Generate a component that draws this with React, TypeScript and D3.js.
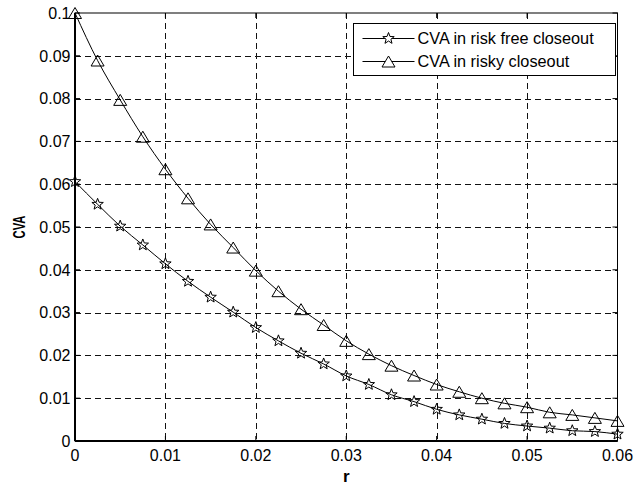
import { useEffect, useRef } from 'react';
import * as d3 from 'd3';

// r grid, CVA values
const rValues = [
  0, 0.0025, 0.005, 0.0075, 0.01, 0.0125, 0.015, 0.0175, 0.02, 0.0225, 0.025, 0.0275, 0.03,
  0.0325, 0.035, 0.0375, 0.04, 0.0425, 0.045, 0.0475, 0.05, 0.0525, 0.055, 0.0575, 0.06,
];
const cvaRiskFree = [
  0.0606, 0.0553, 0.0502, 0.0458, 0.0414, 0.0373, 0.0336, 0.0301, 0.0265, 0.0234, 0.0205, 0.018,
  0.0152, 0.0132, 0.0108, 0.0092, 0.0074, 0.0061, 0.0051, 0.0041, 0.0035, 0.003, 0.0024, 0.0022,
  0.0016,
];
const cvaRisky = [
  0.1, 0.0889, 0.0797, 0.0711, 0.0635, 0.0567, 0.0506, 0.0452, 0.0398, 0.035, 0.0308, 0.0271,
  0.0234, 0.0203, 0.0176, 0.0153, 0.0132, 0.0115, 0.01, 0.0088, 0.0079, 0.0067, 0.0061, 0.0054,
  0.0047,
];
const legendLabels = ['CVA in risk free closeout', 'CVA in risky closeout'];
const xTicks = [0, 0.01, 0.02, 0.03, 0.04, 0.05, 0.06];
const yTicks = [0, 0.01, 0.02, 0.03, 0.04, 0.05, 0.06, 0.07, 0.08, 0.09, 0.1];

const FONT = '"Liberation Sans", Arial, Helvetica, sans-serif';

// MATLAB-ish markers
const starPath = (r: number) => {
  const pts: string[] = [];
  for (let i = 0; i < 10; i++) {
    const rad = i % 2 === 0 ? r : r * 0.42;
    const a = -Math.PI / 2 + (i * Math.PI) / 5;
    pts.push(`${(rad * Math.cos(a)).toFixed(2)},${(rad * Math.sin(a)).toFixed(2)}`);
  }
  return `M${pts.join('L')}Z`;
};
const triPath = (w: number, h: number) => `M0,${-h / 2}L${w / 2},${h / 2}L${-w / 2},${h / 2}Z`;

export default function App() {
  const svgRef = useRef<SVGSVGElement | null>(null);

  useEffect(() => {
    const el = svgRef.current;
    if (!el) return;
    d3.select(el).selectAll('*').remove();

    const W = 634;
    const H = 487;
    const margin = { top: 13, right: 16.5, bottom: 46, left: 75 };
    const w = W - margin.left - margin.right;
    const h = H - margin.top - margin.bottom;

    const svg = d3.select(el).attr('width', W).attr('height', H);
    svg.append('rect').attr('width', W).attr('height', H).attr('fill', '#fff');

    const g = svg.append('g').attr('transform', `translate(${margin.left},${margin.top})`);

    const x = d3.scaleLinear().domain([0, 0.06]).range([0, w]);
    const y = d3.scaleLinear().domain([0, 0.1]).range([h, 0]);

    // Grid
    g.append('g')
      .selectAll('line')
      .data(xTicks.slice(1, -1))
      .join('line')
      .attr('x1', d => Math.round(x(d)) + 0.5)
      .attr('x2', d => Math.round(x(d)) + 0.5)
      .attr('y1', 0)
      .attr('y2', h)
      .attr('stroke', '#111')
      .attr('stroke-dasharray', '6,4');
    g.append('g')
      .selectAll('line')
      .data(yTicks.slice(1, -1))
      .join('line')
      .attr('x1', 0)
      .attr('x2', w)
      .attr('y1', d => Math.round(y(d)) + 0.5)
      .attr('y2', d => Math.round(y(d)) + 0.5)
      .attr('stroke', '#111')
      .attr('stroke-dasharray', '6,4');

    // Box
    g.append('rect')
      .attr('x', 0).attr('y', 0).attr('width', w).attr('height', h)
      .attr('fill', 'none').attr('stroke', '#000').attr('stroke-width', 1);
    g.append('line').attr('x1', 0).attr('x2', 0).attr('y1', 0).attr('y2', h)
      .attr('stroke', '#000').attr('stroke-width', 2);
    g.append('line').attr('x1', 0).attr('x2', w).attr('y1', h).attr('y2', h)
      .attr('stroke', '#000').attr('stroke-width', 2);

    // Inward ticks on all sides
    const tl = 5;
    xTicks.forEach(t => {
      g.append('line').attr('x1', x(t)).attr('x2', x(t)).attr('y1', h).attr('y2', h - tl).attr('stroke', '#000');
      g.append('line').attr('x1', x(t)).attr('x2', x(t)).attr('y1', 0).attr('y2', tl).attr('stroke', '#000');
    });
    yTicks.forEach(t => {
      g.append('line').attr('x1', 0).attr('x2', tl).attr('y1', y(t)).attr('y2', y(t)).attr('stroke', '#000');
      g.append('line').attr('x1', w).attr('x2', w - tl).attr('y1', y(t)).attr('y2', y(t)).attr('stroke', '#000');
    });

    // Tick labels
    g.append('g')
      .selectAll('text')
      .data(xTicks)
      .join('text')
      .attr('x', d => x(d))
      .attr('y', h + 19.7)
      .attr('text-anchor', 'middle')
      .style('font-family', FONT)
      .style('font-size', '16px')
      .text(d => String(d));
    g.append('g')
      .selectAll('text')
      .data(yTicks)
      .join('text')
      .attr('x', -4.5)
      .attr('y', d => y(d) + 5.7)
      .attr('text-anchor', 'end')
      .style('font-family', FONT)
      .style('font-size', '16px')
      .text(d => String(d));

    // Axis labels
    g.append('text')
      .attr('x', w / 2)
      .attr('y', h + 41)
      .attr('text-anchor', 'middle')
      .style('font-family', FONT)
      .style('font-size', '17px')
      .style('font-weight', 'bold')
      .text('r');
    g.append('text')
      .attr('transform', `translate(${-50},${h / 2}) rotate(-90) scale(0.7,1)`)
      .attr('text-anchor', 'middle')
      .style('font-family', FONT)
      .style('font-size', '16px')
      .style('font-weight', 'bold')
      .text('CVA');

    const line = d3.line<[number, number]>()
      .x(d => x(d[0]))
      .y(d => y(d[1]))
      .curve(d3.curveMonotoneX);

    const series = [
      { values: cvaRiskFree, marker: starPath(6) },
      { values: cvaRisky, marker: triPath(13, 11) },
    ];

    series.forEach(s => {
      const pts: [number, number][] = rValues.map((r, i) => [r, s.values[i]]);
      g.append('path')
        .datum(pts)
        .attr('fill', 'none')
        .attr('stroke', '#000')
        .attr('stroke-width', 1)
        .attr('d', line);
      g.append('g')
        .selectAll('path')
        .data(pts)
        .join('path')
        .attr('transform', d => `translate(${x(d[0])},${y(d[1])})`)
        .attr('d', s.marker)
        .attr('fill', 'none')
        .attr('stroke', '#000')
        .attr('stroke-width', 1);
    });

    // Legend
    const lg = svg.append('g').attr('transform', 'translate(353.5,23.5)');
    lg.append('rect')
      .attr('width', 262).attr('height', 52)
      .attr('fill', '#fff').attr('stroke', '#000').attr('stroke-width', 1);
    legendLabels.forEach((label, i) => {
      const cy = 15 + i * 23;
      lg.append('line').attr('x1', 9).attr('x2', 61).attr('y1', cy).attr('y2', cy).attr('stroke', '#000');
      lg.append('path')
        .attr('transform', `translate(35,${cy})`)
        .attr('d', series[i].marker)
        .attr('fill', '#fff')
        .attr('stroke', '#000');
      lg.append('text')
        .attr('x', 64)
        .attr('y', cy + 5.3)
        .style('font-family', FONT)
        .style('font-size', '16.3px')
        .text(label);
    });
  }, []);

  return (
    <div style={{ position: 'absolute', left: 0, top: 0 }}>
      <svg ref={svgRef} style={{ display: 'block' }} />
    </div>
  );
}
